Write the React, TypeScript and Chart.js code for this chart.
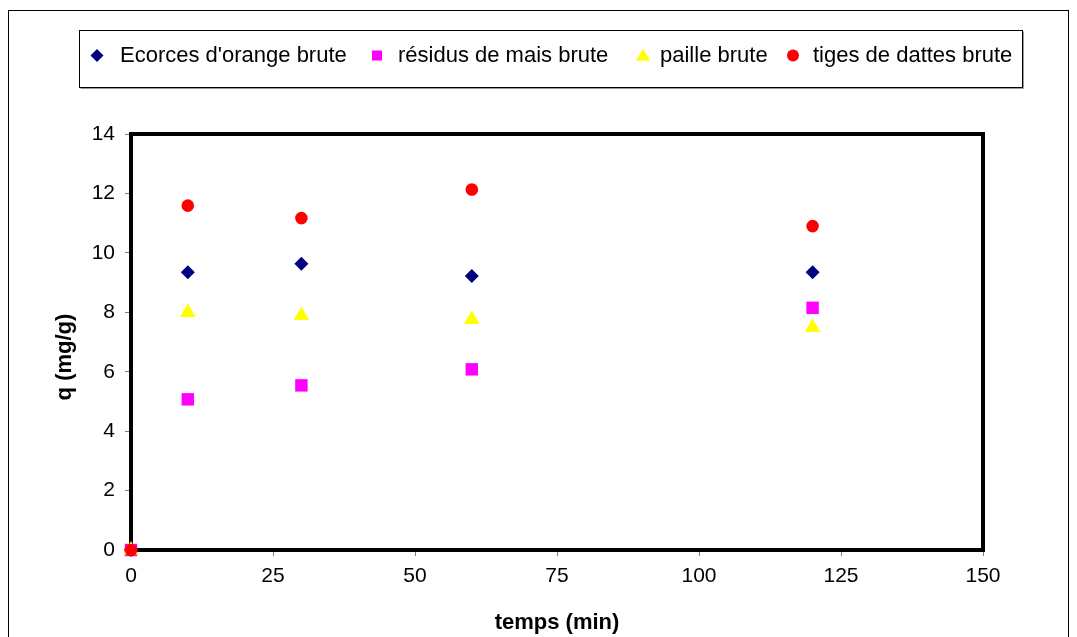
import React, { useEffect, useRef } from 'react';
import { Chart, registerables } from 'chart.js';

Chart.register(...registerables);

// ---- data ----
const timeMin = [0, 10, 30, 60, 120];
const ecorces = [0, 9.35, 9.63, 9.22, 9.35];
const residus = [0, 5.07, 5.54, 6.08, 8.15];
const paille = [0, 7.99, 7.89, 7.76, 7.49];
const tiges = [0, 11.59, 11.17, 12.13, 10.9];
const seriesLabels = ["Ecorces d'orange brute", 'résidus de mais brute', 'paille brute', 'tiges de dattes brute'];
const xTitle = 'temps (min)';
const yTitle = 'q (mg/g)';
const xRange = [0, 150];
const xStep = 25;
const yRange = [0, 14];
const yStep = 2;

const FONT = "'Liberation Sans', Arial, sans-serif";
const colors = ['#000080', '#FF00FF', '#FFFF00', '#FF0000'];
const styles = ['rectRot', 'rect', 'triangle', 'circle'];
const radii = [7, 8.8, 9, 6.3];

// legend layout (canvas px)
const legendBox = { x: 70.5, y: 19.5, w: 943, h: 57 };
const legendMarkerX = [88, 368, 634, 784];
const legendTextX = [111, 389, 651, 804];

function drawMarker(ctx: CanvasRenderingContext2D, style: string, x: number, y: number, s: number, color: string) {
  ctx.fillStyle = color;
  ctx.beginPath();
  if (style === 'rectRot') {
    ctx.moveTo(x, y - s); ctx.lineTo(x + s, y); ctx.lineTo(x, y + s); ctx.lineTo(x - s, y);
  } else if (style === 'rect') {
    ctx.rect(x - s, y - s, 2 * s, 2 * s);
  } else if (style === 'triangle') {
    ctx.moveTo(x, y - s); ctx.lineTo(x + s, y + s * 0.75); ctx.lineTo(x - s, y + s * 0.75);
  } else {
    ctx.arc(x, y, s, 0, Math.PI * 2);
  }
  ctx.closePath();
  ctx.fill();
}

const decorPlugin = {
  id: 'decor',
  beforeDatasetsDraw(chart: any) {
    const { ctx, chartArea } = chart;
    ctx.save();
    ctx.strokeStyle = '#000';
    ctx.lineWidth = 4;
    ctx.strokeRect(chartArea.left, chartArea.top, chartArea.right - chartArea.left, chartArea.bottom - chartArea.top);
    ctx.restore();
  },
  afterDraw(chart: any) {
    const { ctx, chartArea } = chart;
    ctx.save();
    // legend box
    ctx.strokeStyle = '#000';
    ctx.lineWidth = 1;
    ctx.strokeRect(legendBox.x, legendBox.y, legendBox.w, legendBox.h);
    ctx.strokeStyle = '#9a9a9a';
    ctx.beginPath();
    ctx.moveTo(legendBox.x + 1, legendBox.y + legendBox.h + 1);
    ctx.lineTo(legendBox.x + legendBox.w + 1, legendBox.y + legendBox.h + 1);
    ctx.lineTo(legendBox.x + legendBox.w + 1, legendBox.y + 1);
    ctx.stroke();
    const sizes = [6.5, 5, 7, 6];
    seriesLabels.forEach((label, i) => {
      drawMarker(ctx, styles[i], legendMarkerX[i], 44.5, sizes[i], colors[i]);
      ctx.fillStyle = '#000';
      ctx.font = `22px ${FONT}`;
      ctx.textAlign = 'left';
      ctx.textBaseline = 'alphabetic';
      ctx.fillText(label, legendTextX[i], 51);
    });
    // y-axis title
    ctx.translate(56, 346);
    ctx.rotate(-Math.PI / 2);
    ctx.font = `bold 22px ${FONT}`;
    ctx.fillStyle = '#000';
    ctx.textAlign = 'center';
    ctx.textBaseline = 'middle';
    ctx.fillText(yTitle, 0, 0);
    ctx.restore();
  },
};

export default function App() {
  const ref = useRef<HTMLCanvasElement | null>(null);
  useEffect(() => {
    if (!ref.current) return;
    const series = [ecorces, residus, paille, tiges];
    const chart = new Chart(ref.current, {
      type: 'scatter',
      data: {
        datasets: series.map((vals, i) => ({
          label: seriesLabels[i],
          data: timeMin.map((x, j) => ({ x, y: vals[j] })),
          pointStyle: styles[i] as any,
          pointRadius: radii[i],
          pointHoverRadius: radii[i],
          backgroundColor: colors[i],
          borderColor: colors[i],
          pointBorderWidth: 0,
          clip: false as any,
          order: 4 - i,
        })),
      },
      options: {
        animation: false,
        responsive: false,
        maintainAspectRatio: false,
        layout: { padding: { left: 0, right: 85, top: 123, bottom: 0 } },
        plugins: { legend: { display: false }, tooltip: { enabled: false } },
        scales: {
          x: {
            type: 'linear',
            min: xRange[0],
            max: xRange[1],
            ticks: { stepSize: xStep, color: '#000', font: { family: FONT, size: 21 }, padding: 8, autoSkip: false, maxRotation: 0 },
            grid: { drawOnChartArea: false, drawTicks: true, tickLength: 6, color: '#808080' },
            border: { display: false },
            title: { display: true, text: xTitle, color: '#000', font: { family: FONT, size: 22, weight: 'bold' }, padding: { top: 0, bottom: 3 } },
            afterFit: (s: any) => { s.height = 89; },
          },
          y: {
            type: 'linear',
            min: yRange[0],
            max: yRange[1],
            ticks: { stepSize: yStep, color: '#000', font: { family: FONT, size: 21 }, padding: 10, autoSkip: false },
            grid: { drawOnChartArea: false, drawTicks: true, tickLength: 6, color: '#808080' },
            border: { display: false },
            afterFit: (s: any) => { s.width = 122; },
          },
        },
      },
      plugins: [decorPlugin],
    });
    return () => chart.destroy();
  }, []);
  return (
    <div style={{ position: 'absolute', left: 8, top: 10, width: 1061, height: 640, border: '1px solid #000', boxSizing: 'border-box', background: '#fff' }}>
      <canvas ref={ref} width={1059} height={628} style={{ display: 'block', width: 1059, height: 628 }} />
    </div>
  );
}
